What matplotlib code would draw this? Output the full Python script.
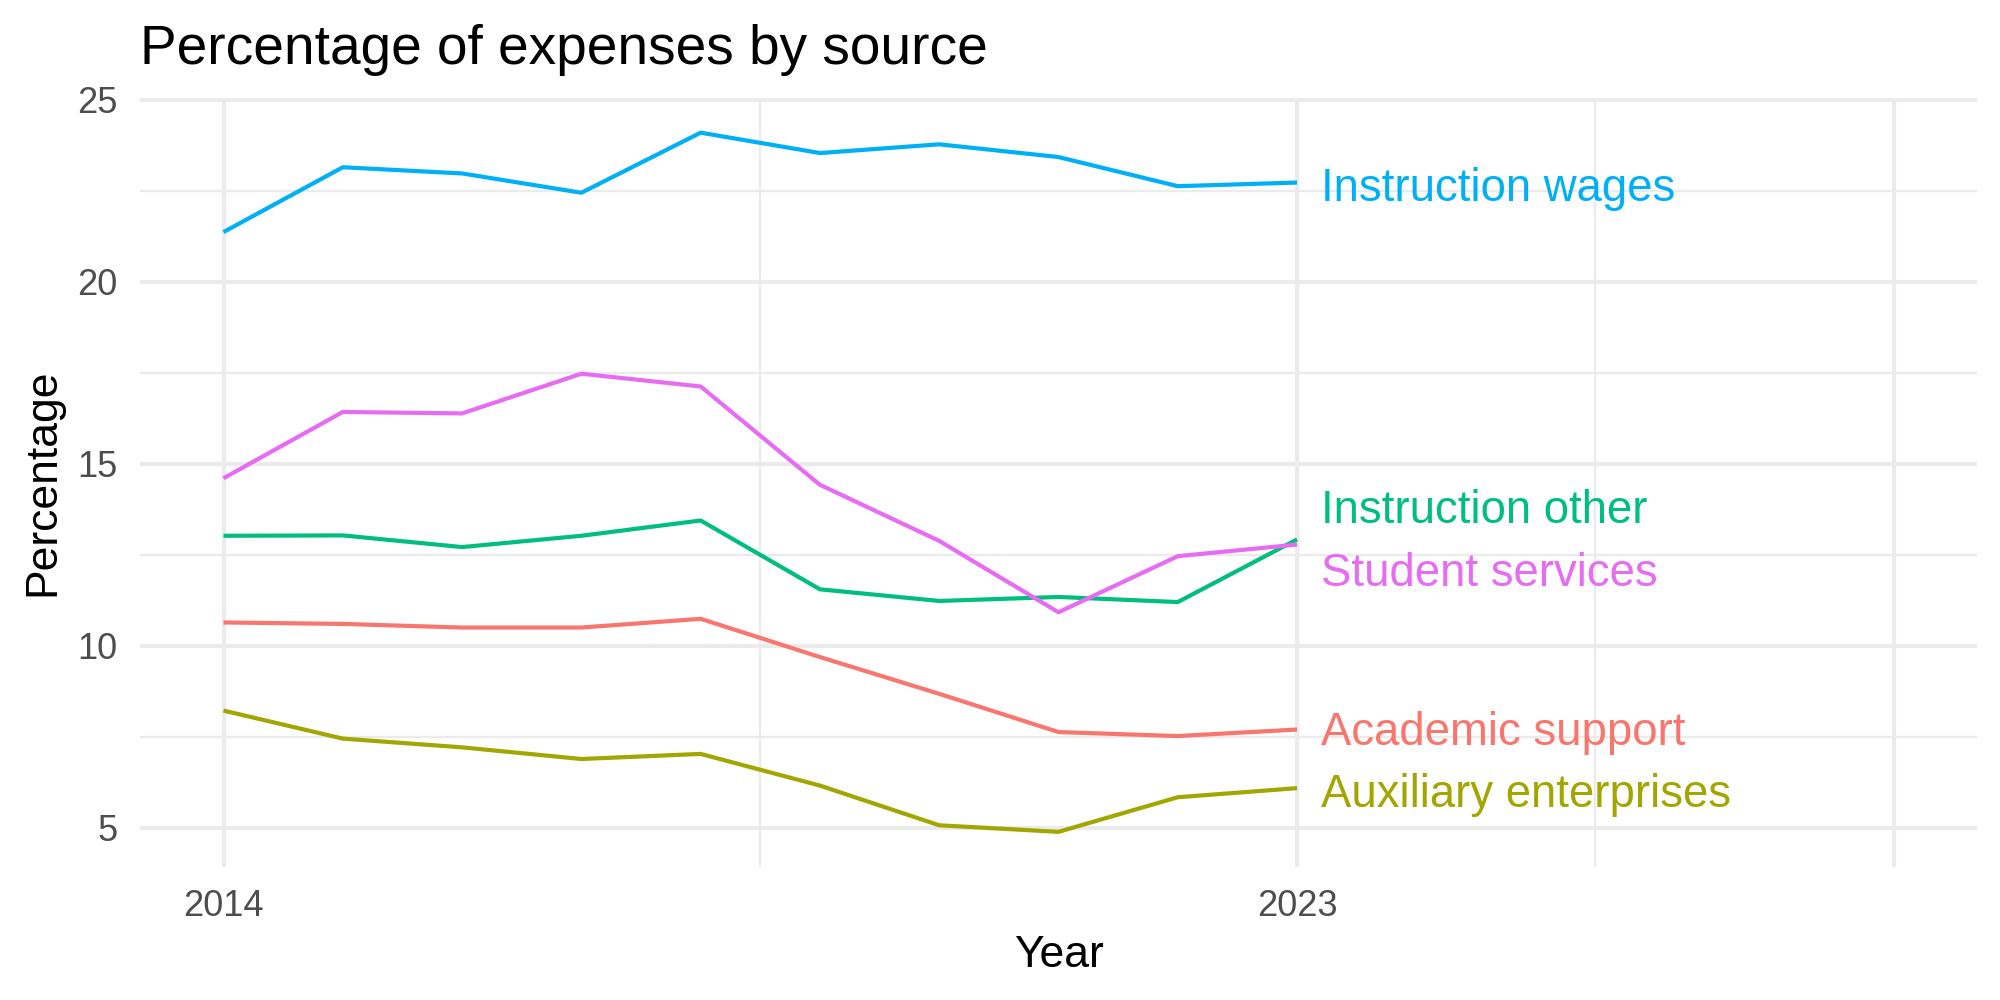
import matplotlib
matplotlib.use("Agg")
import matplotlib.pyplot as plt

plt.rcParams['font.family'] = ['Liberation Sans', 'DejaVu Sans']

years = [2014, 2015, 2016, 2017, 2018, 2019, 2020, 2021, 2022, 2023]

academic_support = [10.64, 10.60, 10.50, 10.50, 10.74, 9.69, 8.68, 7.63, 7.52, 7.70]
auxiliary_enterprises = [8.22, 7.45, 7.21, 6.89, 7.03, 6.16, 5.07, 4.89, 5.84, 6.09]
instruction_other = [13.02, 13.03, 12.71, 13.02, 13.44, 11.55, 11.23, 11.34, 11.20, 12.92]
instruction_wages = [21.36, 23.14, 22.97, 22.44, 24.09, 23.53, 23.77, 23.42, 22.62, 22.72]
student_services = [14.60, 16.42, 16.38, 17.47, 17.12, 14.42, 12.88, 10.92, 12.46, 12.78]

series = {
    "Academic support": academic_support,
    "Auxiliary enterprises": auxiliary_enterprises,
    "Instruction other": instruction_other,
    "Instruction wages": instruction_wages,
    "Student services": student_services,
}
colors = {
    "Academic support": "#F8766D",
    "Auxiliary enterprises": "#A3A500",
    "Instruction other": "#00BF7D",
    "Instruction wages": "#00B0F6",
    "Student services": "#E76BF3",
}
# repel-style nudges for the end labels
nudge = {
    "Academic support": -0.1,
    "Auxiliary enterprises": -0.2,
    "Instruction other": 0.77,
    "Instruction wages": -0.17,
    "Student services": -0.80,
}

x_major = [2014, 2023, 2028]
x_major_labels = ["2014", "2023", ""]
x_minor = [2018.5, 2025.5]
y_major = [5, 10, 15, 20, 25]
y_minor = [7.5, 12.5, 17.5, 22.5]

fig = plt.figure(figsize=(10, 5), dpi=200)
ax = fig.add_axes([0.07, 0.1332, 0.9185, 0.7691])

for name, vals in series.items():
    ax.plot(years, vals, color=colors[name], lw=1.5, solid_capstyle='butt', zorder=3)
    ax.text(years[-1] + 0.2, vals[-1] + nudge[name], name, color=colors[name],
            fontsize=16.4, va='center', ha='left', zorder=4)

x0, x1 = 2014, 2028
ax.set_xlim(x0 - 0.05 * (x1 - x0), x1 + 0.05 * (x1 - x0))
ax.margins(y=0.05)

ax.set_xticks(x_major)
ax.set_xticklabels(x_major_labels)
ax.set_xticks(x_minor, minor=True)
ax.set_yticks(y_major)
ax.set_yticks(y_minor, minor=True)

ax.grid(which='major', color='#EBEBEB', lw=1.5, zorder=0)
ax.grid(which='minor', color='#EBEBEB', lw=0.8, zorder=0)
ax.set_axisbelow(True)
for s in ax.spines.values():
    s.set_visible(False)
ax.tick_params(which='both', length=0, labelsize=13, labelcolor='#4D4D4D', pad=8)

ax.set_xlabel("Year", fontsize=16, labelpad=4)
ax.set_ylabel("Percentage", fontsize=16, labelpad=5)
ax.set_title("Percentage of expenses by source", fontsize=19.8, loc='left', pad=12)

fig.savefig("out.png", dpi=200)
